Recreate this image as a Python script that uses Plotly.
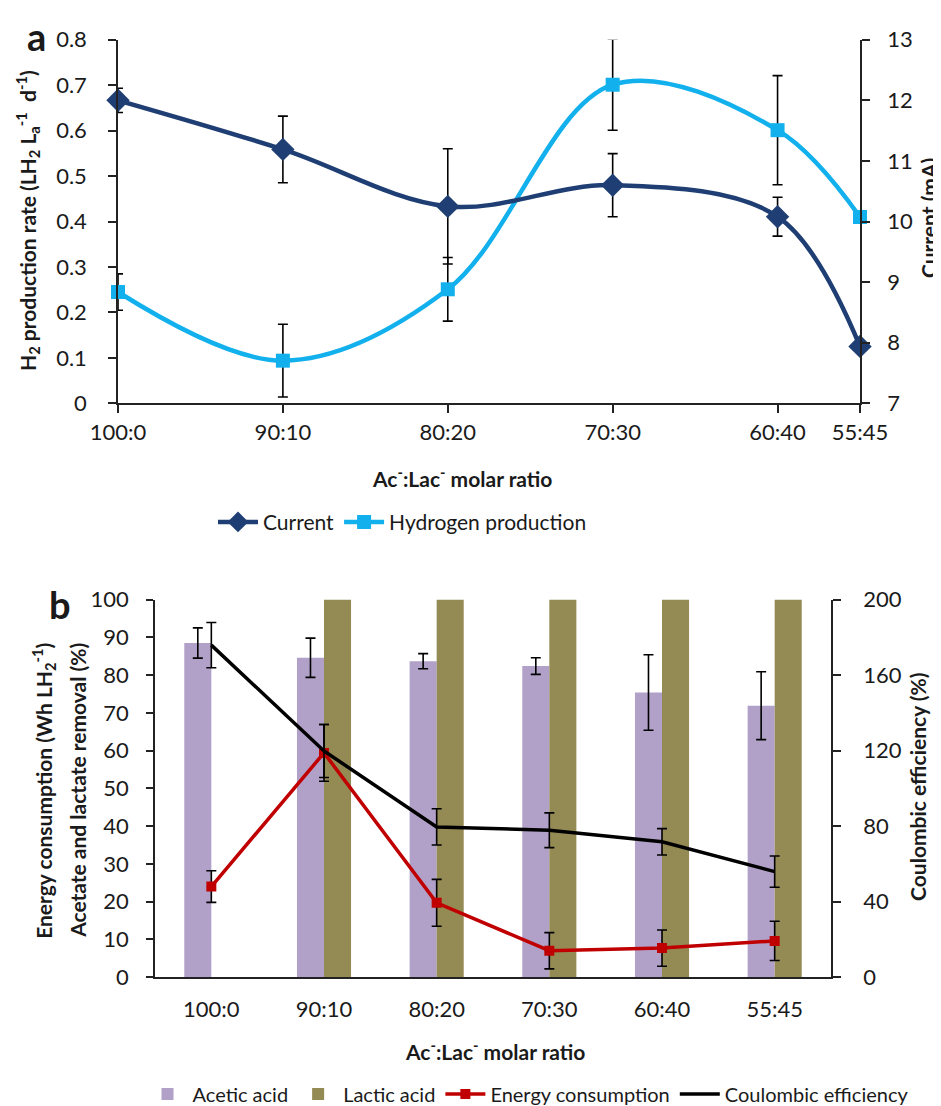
import plotly.graph_objects as go

# ---------------- data ----------------
ratio_labels = ["100:0", "90:10", "80:20", "70:30", "60:40", "55:45"]
lactate_share = [0, 10, 20, 30, 40, 45]
h2_ticks = [0, 0.1, 0.2, 0.3, 0.4, 0.5, 0.6, 0.7, 0.8]
h2_tick_text = ["0", "0.1", "0.2", "0.3", "0.4", "0.5", "0.6", "0.7", "0.8"]

current_mA = [12.0, 11.19, 10.25, 10.6, 10.08, 7.94]
current_err = [0.2, 0.55, 0.95, 0.52, 0.32, 0.0]
h2_rate = [0.245, 0.094, 0.251, 0.701, 0.601, 0.41]
h2_err = [0.04, 0.08, 0.07, 0.1, 0.12, 0.0]

acetic_removal = [88.5, 84.6, 83.7, 82.4, 75.4, 71.9]
acetic_err = [4.0, 5.2, 2.0, 2.2, 10.0, 9.0]
lactic_removal = [None, 100, 100, 100, 100, 100]
energy_use = [24.0, 59.4, 19.7, 7.0, 7.7, 9.6]
energy_err = [4.2, 7.5, 6.2, 4.8, 4.8, 5.2]
coulombic_eff = [175.9, 119.8, 79.6, 77.8, 71.7, 55.9]
coulombic_err = [12.0, 14.0, 9.6, 9.2, 7.0, 8.3]

FONT = "Lato"
TXT = "#1a1a1a"
W, H = 941, 1106


def px(x):
    return x / W


def py(y):
    return (H - y) / H


eb = dict(type="data", color="black", thickness=1.6, width=5, visible=True)

fig = go.Figure()

# ---------------- panel a ----------------
fig.add_trace(go.Scatter(
    x=lactate_share, y=current_mA, name="Current", mode="lines+markers",
    line=dict(color="#1F3F74", width=4.5, shape="spline", smoothing=1.0),
    marker=dict(symbol="diamond", size=18, color="#1F3F74"),
    error_y=dict(array=current_err, **eb),
    xaxis="x", yaxis="y2", cliponaxis=False, legend="legend"))
fig.add_trace(go.Scatter(
    x=lactate_share, y=h2_rate, name="Hydrogen production", mode="lines+markers",
    line=dict(color="#12B0EC", width=4.5, shape="spline", smoothing=1.0),
    marker=dict(symbol="square", size=14, color="#12B0EC"),
    error_y=dict(array=h2_err, **eb),
    xaxis="x", yaxis="y", cliponaxis=False, legend="legend"))

# ---------------- panel b ----------------
fig.add_trace(go.Bar(
    x=ratio_labels, y=acetic_removal, name="Acetic acid",
    marker=dict(color="#B1A0C7", line=dict(width=0)),
    error_y=dict(array=acetic_err, **eb),
    xaxis="x2", yaxis="y3", offsetgroup="ac", legend="legend2"))
fig.add_trace(go.Bar(
    x=ratio_labels, y=lactic_removal, name="Lactic acid",
    marker=dict(color="#948A54", line=dict(width=0)),
    xaxis="x2", yaxis="y3", offsetgroup="lac", legend="legend2"))
fig.add_trace(go.Scatter(
    x=ratio_labels, y=energy_use, name="Energy consumption", mode="lines+markers",
    line=dict(color="#C00000", width=3.5),
    marker=dict(symbol="square", size=10, color="#C00000"),
    error_y=dict(array=energy_err, **eb),
    xaxis="x2", yaxis="y3", legend="legend2"))
fig.add_trace(go.Scatter(
    x=ratio_labels, y=coulombic_eff, name="Coulombic efficiency", mode="lines",
    line=dict(color="black", width=3.5),
    error_y=dict(array=coulombic_err, **eb),
    xaxis="x2", yaxis="y4", legend="legend2"))

tickfont = dict(family=FONT, size=22, color=TXT)
axcommon = dict(showgrid=False, zeroline=False, showline=True, linecolor="#222",
                linewidth=1.5, tickfont=tickfont, ticks="outside", tickcolor="#222",
                tickwidth=1.5, automargin=False)

top_dom_x = [px(110), px(852)]
top_dom_y = [py(399), py(32)]
bot_dom_x = [px(147), px(823)]
bot_dom_y = [py(978), py(597)]

fig.update_layout(
    template="none",
    width=W, height=H,
    margin=dict(l=0, r=0, t=0, b=0),
    paper_bgcolor="white", plot_bgcolor="rgba(0,0,0,0)",
    font=dict(family=FONT, color=TXT),
    barmode="group", bargap=0.52, bargroupgap=0,
    xaxis=dict(domain=top_dom_x, anchor="y", range=[0, 45],
               tickmode="array", tickvals=lactate_share, ticktext=ratio_labels,
               ticklen=8, ticklabelstandoff=0, **axcommon),
    yaxis=dict(domain=top_dom_y, anchor="x", range=[0, 0.8],
               tickmode="array", tickvals=h2_ticks, ticktext=h2_tick_text,
               ticklen=8, ticklabelstandoff=17, **axcommon),
    yaxis2=dict(overlaying="y", side="right", anchor="x", range=[7, 13], dtick=1,
                ticklen=8, ticklabelstandoff=13, **axcommon),
    xaxis2=dict(domain=bot_dom_x, anchor="y3", type="category",
                ticklabelstandoff=12, **{**axcommon, "ticks": ""}),
    yaxis3=dict(domain=bot_dom_y, anchor="x2", range=[0, 100], dtick=10,
                ticklen=7, ticklabelstandoff=13, **axcommon),
    yaxis4=dict(overlaying="y3", side="right", anchor="x2", range=[0, 200], dtick=40,
                ticklen=8, ticklabelstandoff=18, **axcommon),
    legend=dict(orientation="h", x=px(205), xanchor="left", y=py(519), yanchor="middle",
                font=dict(family=FONT, size=21, color=TXT), bgcolor="rgba(0,0,0,0)",
                itemwidth=40),
    legend2=dict(orientation="h", x=px(520), xanchor="center", y=py(1096), yanchor="middle",
                 font=dict(family=FONT, size=20, color=TXT), bgcolor="rgba(0,0,0,0)",
                 itemwidth=40, traceorder="normal"),
    showlegend=True,
)

bold = dict(family=FONT, size=21, color=TXT)
ann = [
    dict(text="<b>a</b>", x=px(28), y=py(28), font=dict(family=FONT, size=38, color=TXT)),
    dict(text="<b>b</b>", x=px(52), y=py(601), font=dict(family=FONT, size=38, color=TXT)),
    dict(text="<b>H<sub>2</sub> production rate (LH<sub>2</sub> L<sub>a</sub><sup>-1</sup>  d<sup>-1</sup>)</b>",
         x=px(19), y=py(215), textangle=-90, font=bold),
    dict(text="<b>Current (mA)</b>", x=px(920), y=py(212), textangle=-90, font=bold),
    dict(text="<b>Ac<sup>-</sup>:Lac<sup>-</sup> molar ratio</b>", x=px(454), y=py(473), font=bold),
    dict(text="<b>Energy consumption (Wh LH<sub>2</sub><sup>-1</sup>)</b>",
         x=px(36), y=py(790), textangle=-90, font=bold),
    dict(text="<b>Acetate and lactate removal (%)</b>",
         x=px(70), y=py(790), textangle=-90, font=bold),
    dict(text="<b>Coulombic efficiency (%)</b>", x=px(910), y=py(786), textangle=-90, font=bold),
    dict(text="<b>Ac<sup>-</sup>:Lac<sup>-</sup> molar ratio</b>", x=px(487), y=py(1052), font=bold),
]
for a in ann:
    a.update(xref="paper", yref="paper", showarrow=False, xanchor="center", yanchor="middle")
fig.update_layout(annotations=ann)

fig.write_html("out.html")
